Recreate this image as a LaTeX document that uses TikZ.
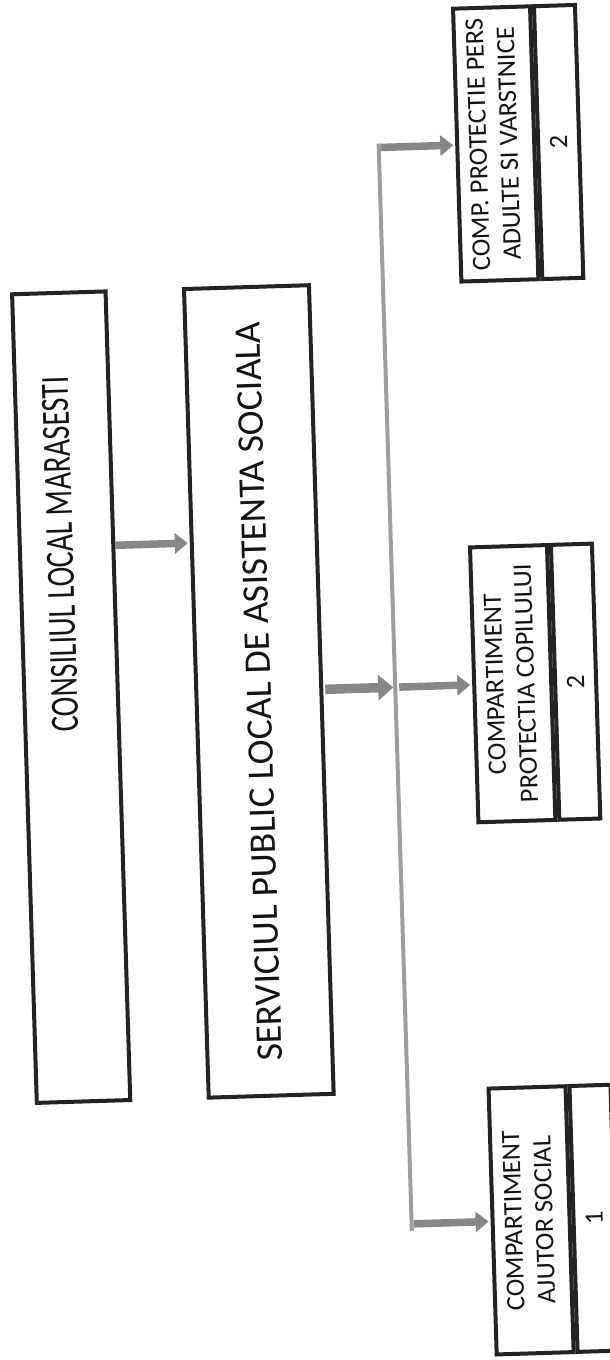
\documentclass[tikz,border=0pt]{standalone}
\usepackage{fontspec}
\setmainfont{Carlito}
\usepackage{graphicx}
\usetikzlibrary{arrows.meta,calc}
\definecolor{boxcol}{RGB}{35,35,35}
\definecolor{txtcol}{RGB}{20,20,20}
\definecolor{arrcol}{RGB}{135,135,135}
\definecolor{linecol}{RGB}{158,158,158}
\begin{document}
\begin{tikzpicture}[x=1pt,y=-1pt,
  bx/.style={draw=boxcol, line width=4pt, fill=white, inner sep=0pt, text=txtcol},
  bigfont/.style={font=\fontsize{37.5}{45}\selectfont},
  smallfont/.style={font=\fontsize{26.5}{31}\selectfont},
  vline/.style={draw=linecol, line width=4pt},
  garrow/.style={draw=arrcol, line width=7.5pt, -{Triangle[length=13pt,width=20pt]}},
  garrowthick/.style={draw=arrcol, line width=9.5pt, -{Triangle[length=15pt,width=25pt]}}]
\fill[white] (0,0) rectangle (610,1360);
\useasboundingbox (0,0) rectangle (610,1360);
\begin{scope}[rotate around={1.75:(305,680)}, transform shape]
  % top level boxes
  \node[bx, minimum width=93.5pt, minimum height=809pt] (cl) at (70.75,690) {};
  \node[text=txtcol, font=\fontsize{40}{48}\selectfont, inner sep=0pt] (clt) at (64.4,547)
    {\rotatebox{90}{\scalebox{0.74}[1]{CONSILIUL LOCAL MARASESTI}}};
  \node[bx, bigfont, minimum width=125pt, minimum height=809pt] (sp) at (258.5,690)
    {\rotatebox{90}{SERVICIUL PUBLIC LOCAL DE ASISTENTA SOCIALA}};
  % small boxes
  \node[bx, smallfont, minimum width=77pt, minimum height=273pt] (b3) at (512,150)
    {\rotatebox{90}{\begin{tabular}{@{}c@{}}COMP. PROTECTIE PERS\\ADULTE SI VARSTNICE\end{tabular}}};
  \node[bx, smallfont, minimum width=41pt, minimum height=273pt, anchor=west] (n3) at (b3.east)
    {\rotatebox{90}{2}};
  \node[bx, smallfont, minimum width=77pt, minimum height=275pt] (b4) at (512.5,690)
    {\rotatebox{90}{\begin{tabular}{@{}c@{}}COMPARTIMENT\\PROTECTIA COPILULUI\end{tabular}}};
  \node[bx, smallfont, minimum width=41pt, minimum height=275pt, anchor=west] (n4) at (b4.east)
    {\rotatebox{90}{2}};
  \node[bx, smallfont, minimum width=77pt, minimum height=266pt] (b5) at (514.5,1227)
    {\rotatebox{90}{\begin{tabular}{@{}c@{}}COMPARTIMENT\\AJUTOR SOCIAL\end{tabular}}};
  \node[bx, smallfont, minimum width=41pt, minimum height=266pt, anchor=west] (n5) at (b5.east)
    {\rotatebox{90}{1}};
  % distribution line
  \coordinate (vtop) at (395,150);
  \coordinate (vmid) at (395,690);
  \coordinate (vbot) at (395,1227);
  \draw[vline, shorten <=-4pt, shorten >=-7pt] (vtop) -- (vbot);
  % connectors
  \draw[garrow, shorten >=2pt] ($(cl.north east)!0.315!(cl.south east)$) -- ($(sp.north west)!0.315!(sp.south west)$);
  \draw[garrowthick, shorten <=2pt, shorten >=2pt] (sp.east) -- (vmid);
  \draw[garrow, shorten <=2pt, shorten >=2pt] (vtop) -- (b3.west);
  \draw[garrow, shorten <=4pt, shorten >=2pt] (vmid) -- (b4.west);
  \draw[garrow, shorten <=2pt, shorten >=2pt] (vbot) -- (b5.west);
\end{scope}
\end{tikzpicture}
\end{document}
